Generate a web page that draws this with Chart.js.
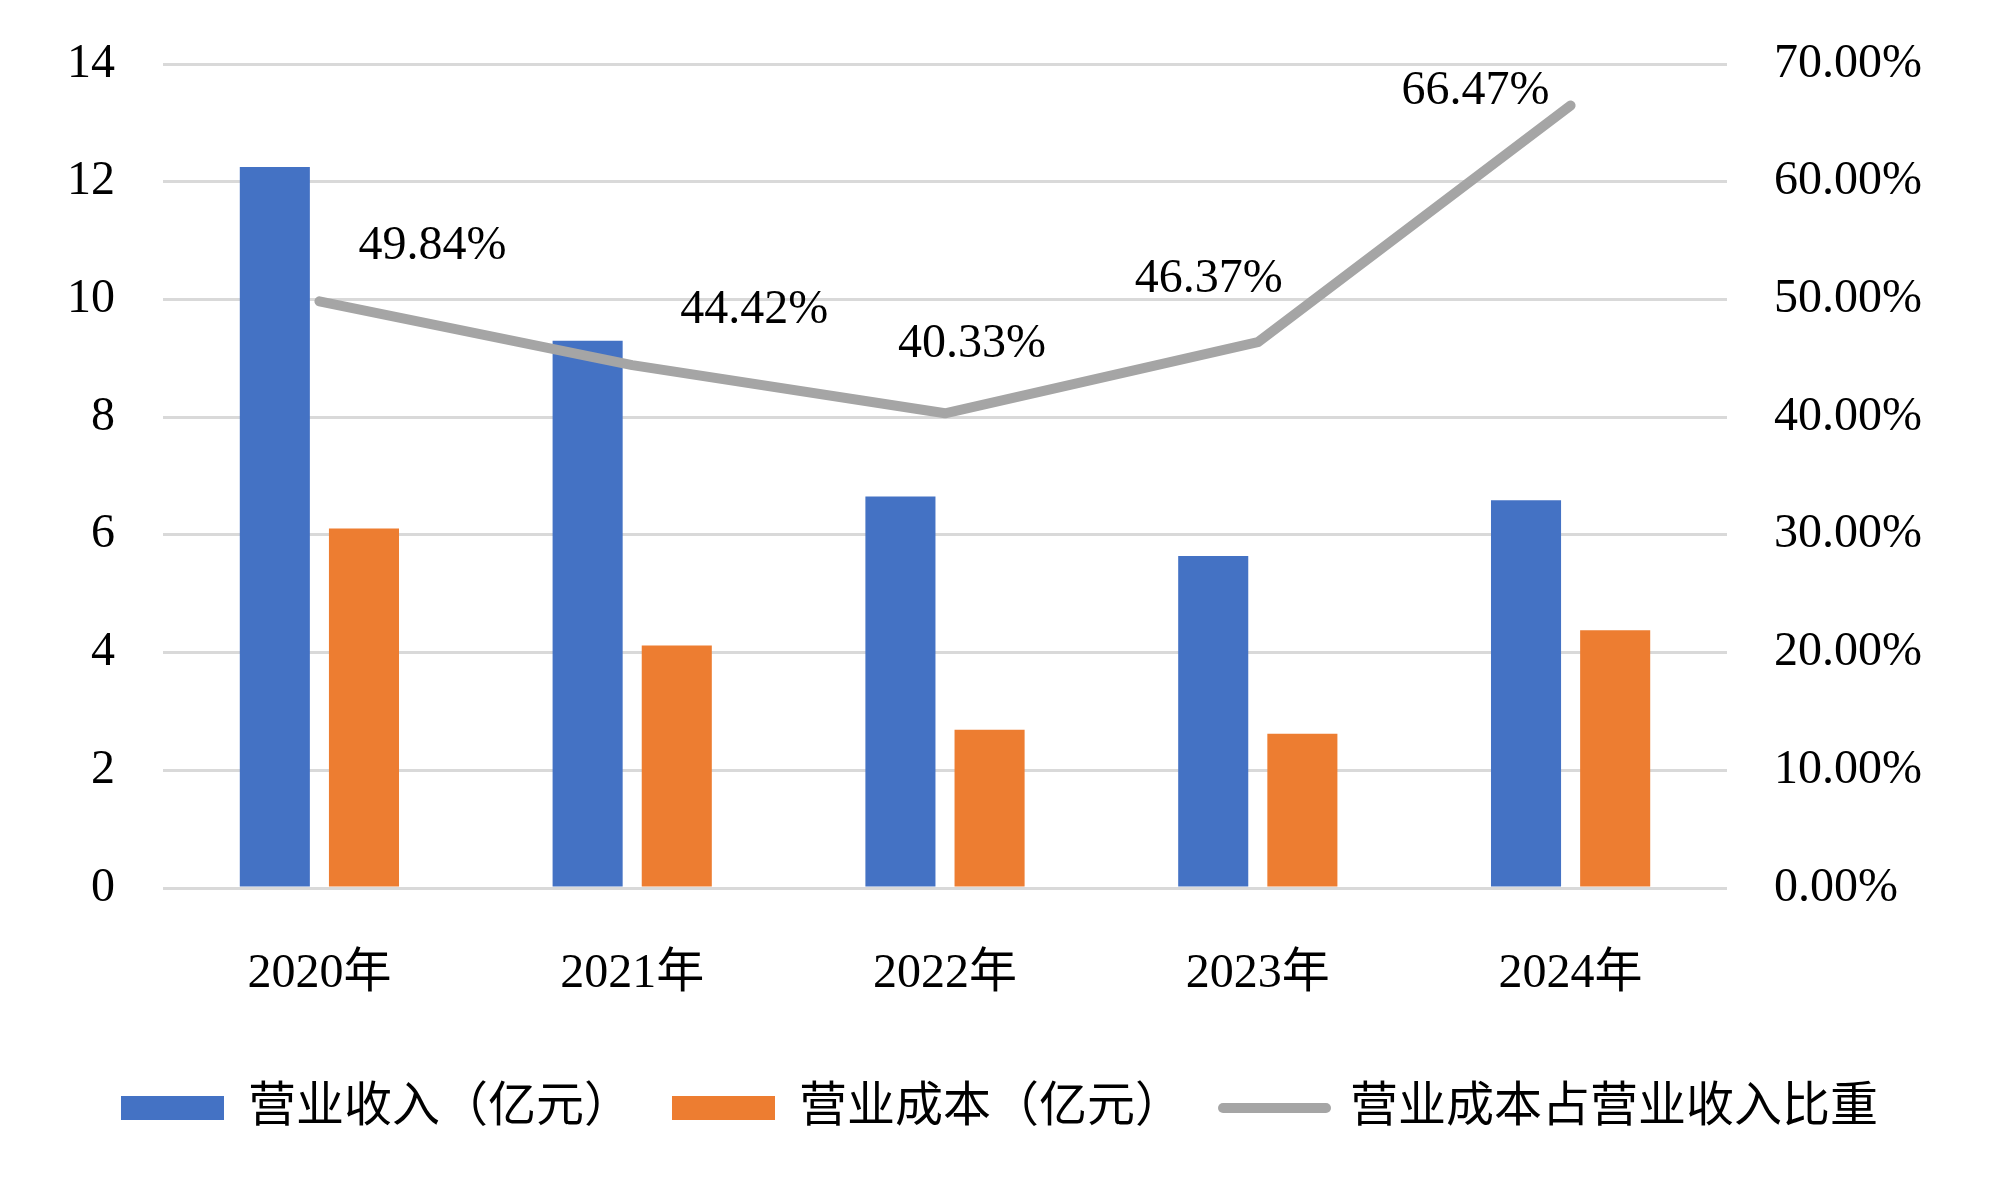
<!DOCTYPE html>
<html>
<head>
<meta charset="utf-8">
<script src="https://cdn.jsdelivr.net/npm/chart.js@4/dist/chart.umd.min.js"></script>
<style>
  html, body { margin: 0; padding: 0; background: #fff; }
  #wrap { width: 1999px; height: 1192px; position: relative; }
</style>
</head>
<body>
<div id="wrap"><canvas id="chart"></canvas></div>
<script>
// ---- data ----
const years = ["2020年", "2021年", "2022年", "2023年", "2024年"];
const revenue = [12.25, 9.30, 6.65, 5.64, 6.59];   // 营业收入（亿元）
const cost = [6.11, 4.12, 2.69, 2.62, 4.38];       // 营业成本（亿元）
const ratio = [49.84, 44.42, 40.33, 46.37, 66.47]; // 营业成本占营业收入比重 (%)
const leftTicks = [0, 2, 4, 6, 8, 10, 12, 14];
const rightTicks = [0, 10, 20, 30, 40, 50, 60, 70];

const FONT = '"Liberation Serif", "Times New Roman", "Noto Sans CJK SC", serif';
const FS = 48;

Chart.defaults.font.family = FONT;
Chart.defaults.font.size = FS;
Chart.defaults.color = "#000";

// labels for the line, pushed off the points the way the picture has them
const lineLabels = {
  id: "lineLabels",
  afterDatasetsDraw(chart, args, opts) {
    const meta = chart.getDatasetMeta(2);
    const ctx = chart.ctx;
    ctx.save();
    ctx.font = FS + "px " + FONT;
    ctx.fillStyle = "#000";
    ctx.textAlign = "center";
    ctx.textBaseline = "middle";
    meta.data.forEach((pt, i) => {
      const off = opts.offsets[i];
      ctx.fillText(ratio[i].toFixed(2) + "%", pt.x + off[0], pt.y + off[1]);
    });
    ctx.restore();
  }
};

new Chart(document.getElementById("chart"), {
  type: "bar",
  data: {
    labels: years,
    datasets: [
      {
        label: "营业收入（亿元）",
        data: revenue,
        backgroundColor: "#4472C4",
        yAxisID: "y",
        categoryPercentage: 0.57,
        barPercentage: 0.786
      },
      {
        label: "营业成本（亿元）",
        data: cost,
        backgroundColor: "#ED7D31",
        yAxisID: "y",
        categoryPercentage: 0.57,
        barPercentage: 0.786
      },
      {
        type: "line",
        label: "营业成本占营业收入比重",
        data: ratio,
        borderColor: "#A5A5A5",
        backgroundColor: "#A5A5A5",
        borderWidth: 10,
        borderCapStyle: "round",
        borderJoinStyle: "round",
        pointRadius: 0,
        tension: 0,
        yAxisID: "y2",
        order: -1
      }
    ]
  },
  options: {
    responsive: true,
    maintainAspectRatio: false,
    animation: false,
    layout: { padding: { top: 64, left: 0, right: 0, bottom: 50 } },
    scales: {
      x: {
        grid: { display: false, drawTicks: false },
        border: { display: false },
        ticks: { padding: 58, font: { size: FS } },
        afterFit(s) { s.height = 156; }
      },
      y: {
        position: "left",
        min: 0,
        max: 14,
        afterBuildTicks(s) { s.ticks = leftTicks.map(v => ({ value: v })); },
        // the gap to the labels comes from an invisible tick mark, so it does not push the top down
        grid: { color: "#D9D9D9", lineWidth: 3, drawTicks: true, tickLength: 48, tickColor: "rgba(0,0,0,0)" },
        border: { display: false },
        ticks: { padding: 0 },
        afterFit(s) { s.width = 163; }
      },
      y2: {
        position: "right",
        min: 0,
        max: 70,
        afterBuildTicks(s) { s.ticks = rightTicks.map(v => ({ value: v })); },
        grid: { display: false, drawTicks: true, tickLength: 47 },
        border: { display: false },
        ticks: {
          padding: 0,
          callback: v => v.toFixed(2) + "%"
        },
        afterFit(s) { s.width = 272; }
      }
    },
    plugins: {
      tooltip: { enabled: false },
      legend: {
        position: "bottom",
        labels: {
          usePointStyle: true,
          pointStyleWidth: 103,
          boxHeight: 24,
          padding: 40,
          font: { size: 48 },
          generateLabels(chart) {
            return chart.data.datasets.map((ds, i) => ({
              text: ds.label,
              datasetIndex: i,
              fillStyle: ds.backgroundColor,
              strokeStyle: ds.type === "line" ? ds.borderColor : ds.backgroundColor,
              lineWidth: ds.type === "line" ? 10 : 0,
              lineCap: "round",
              pointStyle: ds.type === "line" ? "line" : "rect",
              fontColor: "#000",
              hidden: false
            }));
          }
        }
      },
      lineLabels: {
        offsets: [[113, -55], [122, -55], [27, -69], [-49, -63], [-95, -14]]
      }
    }
  },
  plugins: [lineLabels]
});
</script>
</body>
</html>
